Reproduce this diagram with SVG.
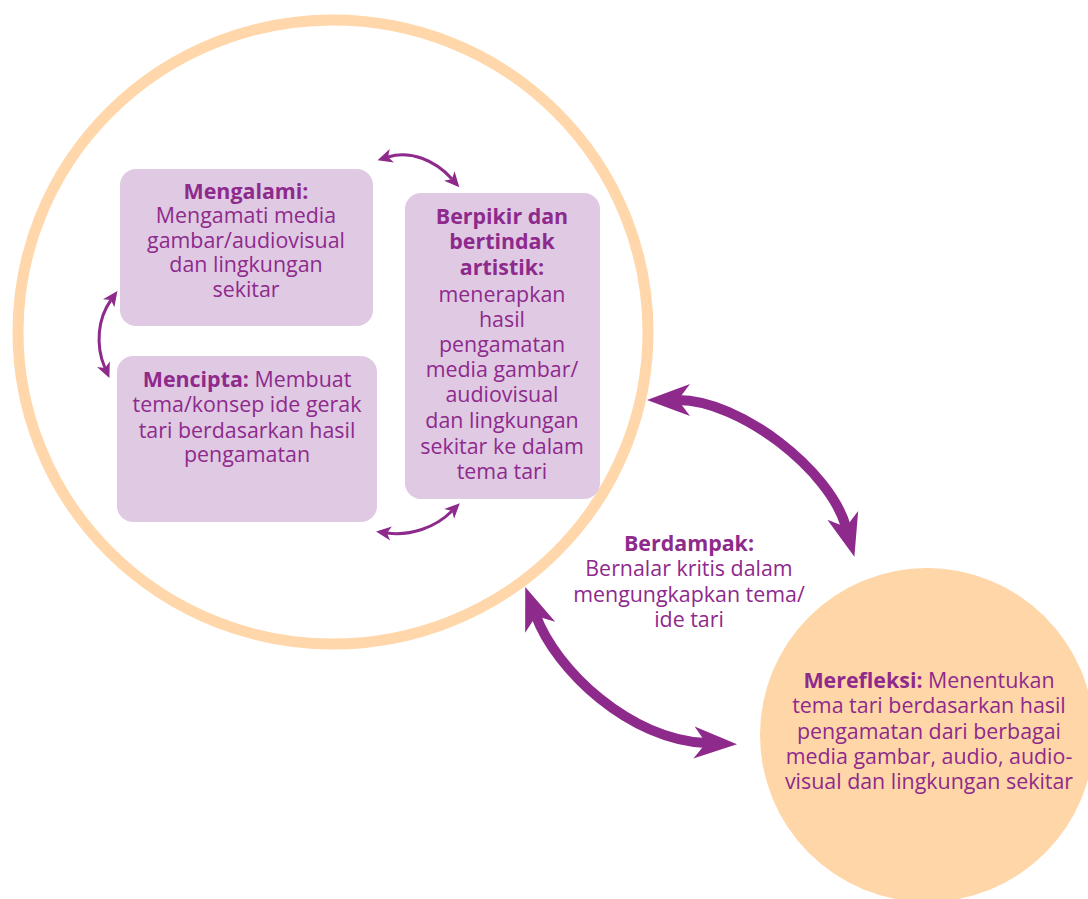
<svg xmlns="http://www.w3.org/2000/svg" width="1088" height="899" viewBox="0 0 1088 899">
<style>
.box{fill:#DFC9E3}
.t{font-family:"Open Sans","Noto Sans",sans-serif;font-size:21.4px;fill:#8E2A8C;text-anchor:middle}
.b{font-weight:bold}
.big{fill:none;stroke:#8E2A8C;stroke-width:10;marker-start:url(#hb);marker-end:url(#hb)}
.sm{fill:none;stroke:#8E2A8C;stroke-width:3;marker-start:url(#hs);marker-end:url(#hs)}
</style>
<defs>
<marker id="hb" markerUnits="userSpaceOnUse" orient="auto-start-reverse" refX="0" refY="0" markerWidth="60" markerHeight="40" overflow="visible">
<path d="M31,0 L-12,-16 L0,0 L-12,16 Z" fill="#8E2A8C"/>
</marker>
<marker id="hs" markerUnits="userSpaceOnUse" orient="auto-start-reverse" refX="0" refY="0" markerWidth="20" markerHeight="20" overflow="visible">
<path d="M11,0 L-4,-7 L0,0 L-4,7 Z" fill="#8E2A8C"/>
</marker>
</defs>
<g id="outer-circle">
<ellipse cx="333" cy="332" rx="315" ry="312" fill="none" stroke="#FFD7AA" stroke-width="11"/>
</g>
<g id="merefleksi">
<circle cx="927" cy="735" r="167" fill="#FFD6A8"/>
<text class="t"><tspan x="929" y="688"><tspan class="b">Merefleksi:</tspan> Menentukan</tspan><tspan x="929" y="713">tema tari berdasarkan hasil</tspan><tspan x="929" y="739">pengamatan dari berbagai</tspan><tspan x="929" y="764">media gambar, audio, audio-</tspan><tspan x="929" y="789">visual dan lingkungan sekitar</tspan></text>
</g>
<g id="mengalami">
<rect class="box" x="120" y="169" width="253" height="157" rx="16"/>
<text class="t"><tspan class="b" x="246" y="199">Mengalami:</tspan><tspan x="246" y="223">Mengamati media</tspan><tspan x="246" y="248">gambar/audiovisual</tspan><tspan x="246" y="272">dan lingkungan</tspan><tspan x="246" y="297">sekitar</tspan></text>
</g>
<g id="mencipta">
<rect class="box" x="117" y="356" width="260" height="166" rx="16"/>
<text class="t"><tspan x="247" y="387"><tspan class="b">Mencipta:</tspan> Membuat</tspan><tspan x="247" y="412">tema/konsep ide gerak</tspan><tspan x="247" y="438">tari berdasarkan hasil</tspan><tspan x="247" y="462">pengamatan</tspan></text>
</g>
<g id="berpikir">
<rect class="box" x="405" y="193" width="195" height="306" rx="16"/>
<text class="t"><tspan class="b" x="502" y="224">Berpikir dan</tspan><tspan class="b" x="502" y="249">bertindak</tspan><tspan class="b" x="502" y="275">artistik:</tspan><tspan x="502" y="302">menerapkan</tspan><tspan x="502" y="327">hasil</tspan><tspan x="502" y="352">pengamatan</tspan><tspan x="502" y="377">media gambar/</tspan><tspan x="502" y="402">audiovisual</tspan><tspan x="502" y="428">dan lingkungan</tspan><tspan x="502" y="454">sekitar ke dalam</tspan><tspan x="502" y="479">tema tari</tspan></text>
</g>
<g id="berdampak">
<text class="t"><tspan class="b" x="689" y="551">Berdampak:</tspan><tspan x="689" y="576">Bernalar kritis dalam</tspan><tspan x="689" y="602">mengungkapkan tema/</tspan><tspan x="689" y="627">ide tari</tspan></text>
</g>
<g id="connectors">
<path class="big" d="M678,400 C740,400 830,470 846,527"/>
<path class="big" d="M536,616 C556,670 630,740 706,743"/>
<path class="sm" d="M388,157 C410,150 435,160 452,179"/>
<path class="sm" d="M387,533 C410,536 435,528 452,511"/>
<path class="sm" d="M111,300 C98,318 95,345 105,368"/>
</g>
</svg>
